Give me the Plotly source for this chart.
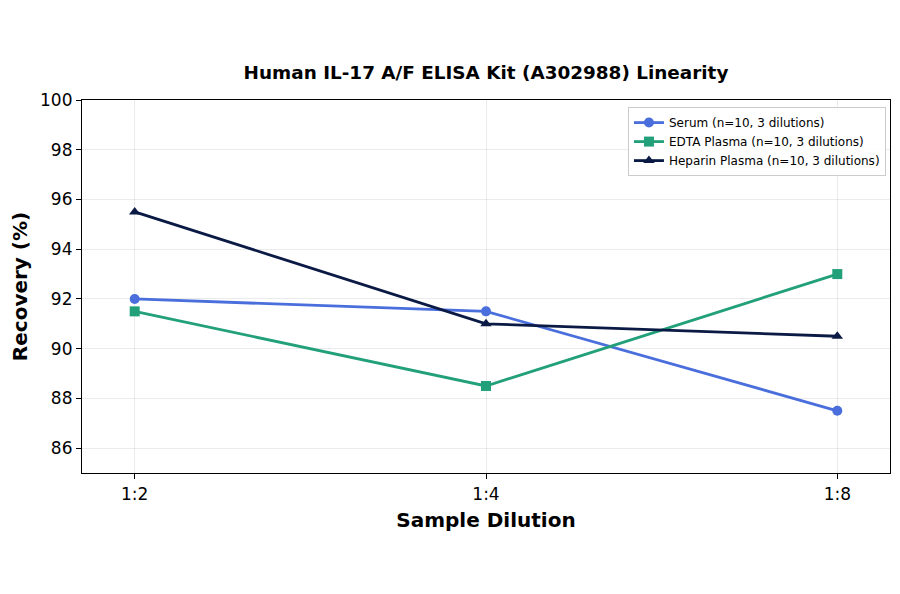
import plotly.graph_objects as go

categories = ["1:2", "1:4", "1:8"]
serum = [92.0, 91.5, 87.5]
edta = [91.5, 88.5, 93.0]
heparin = [95.5, 91.0, 90.5]
series_names = ["Serum (n=10, 3 dilutions)", "EDTA Plasma (n=10, 3 dilutions)", "Heparin Plasma (n=10, 3 dilutions)"]
y_ticks = [86, 88, 90, 92, 94, 96, 98, 100]

colors = ["#4a6fdc", "#22a079", "#0a1a44"]
symbols = ["circle", "square", "triangle-up"]

fig = go.Figure()
for name, vals, c, s in zip(series_names, [serum, edta, heparin], colors, symbols):
    fig.add_trace(go.Scatter(
        x=list(range(len(categories))), y=vals, mode="lines+markers", name=name,
        line=dict(color=c, width=2.8),
        marker=dict(symbol=s, size=10, color=c),
    ))

font = "DejaVu Sans"
W, H = 884, 578
fig.update_layout(
    width=W, height=H,
    paper_bgcolor="white", plot_bgcolor="white",
    margin=dict(l=74, r=2, t=92, b=113),
    font=dict(family=font, size=13, color="black"),
    title=dict(text="<b>Human IL-17 A/F ELISA Kit (A302988) Linearity</b>",
               xref="paper", x=0.5, xanchor="center", y=1 - 65/H, yanchor="middle",
               font=dict(size=18.4, family=font, color="black")),
    showlegend=True,
    legend=dict(x=0.995, y=0.981, xanchor="right", yanchor="top",
                bgcolor="rgba(255,255,255,0.9)", bordercolor="#cccccc", borderwidth=1,
                font=dict(size=12, family=font), tracegroupgap=0),
)
fig.update_xaxes(
    range=[-0.15, 2.15], tickmode="array", tickvals=list(range(len(categories))), ticktext=categories,
    showgrid=True, gridcolor="rgba(0,0,0,0.08)", gridwidth=1,
    showline=True, linecolor="black", linewidth=1.2, mirror=True,
    ticks="outside", ticklen=5, tickcolor="black",
    tickfont=dict(size=17, family=font),
    title=dict(text="<b>Sample Dilution</b>", font=dict(size=20, family=font), standoff=10),
    zeroline=False,
)
fig.update_yaxes(
    range=[85, 100], tickmode="array", tickvals=y_ticks,
    showgrid=True, gridcolor="rgba(0,0,0,0.08)", gridwidth=1,
    showline=True, linecolor="black", linewidth=1.2, mirror=True,
    ticks="outside", ticklen=5, tickcolor="black",
    tickfont=dict(size=17, family=font),
    title=dict(text="<b>Recovery (%)</b>", font=dict(size=20, family=font), standoff=10),
    zeroline=False,
)

fig.write_html("out.html")
